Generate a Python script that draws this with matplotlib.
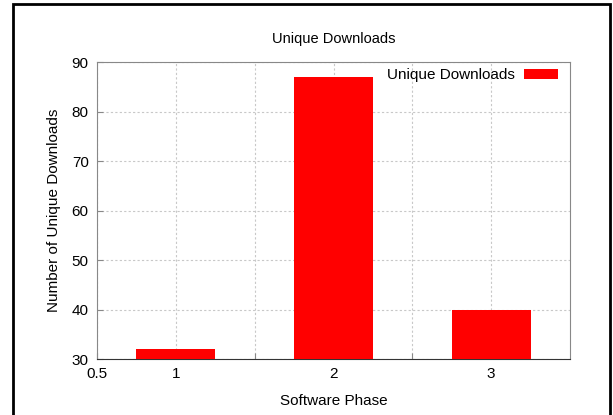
import matplotlib.pyplot as plt
from matplotlib.patches import Rectangle

phases = [1, 2, 3]
downloads = [32, 87, 40]
xticks = [0.5, 1, 1.5, 2, 2.5, 3]
xtick_labels = ['0.5', '1', '', '2', '', '3']
yticks = [30, 40, 50, 60, 70, 80, 90]

plt.rcParams['font.family'] = ['Liberation Sans', 'DejaVu Sans']
plt.rcParams['font.size'] = 10

fig = plt.figure(figsize=(6.13, 4.15), dpi=100)
ax = fig.add_axes([97 / 613, 1 - 359 / 415, (570 - 97) / 613, (359 - 62) / 415])

ax.bar(phases, [d - 30 for d in downloads], bottom=30, width=0.5, color='#ff0000',
       label='Unique Downloads', zorder=3)

ax.set_xlim(0.5, 3.5)
ax.set_ylim(30, 90)
ax.set_xticks(xticks)
ax.set_xticklabels(xtick_labels)
ax.set_yticks(yticks)
ax.grid(True, linestyle=(0, (2, 2)), color='#c8c8c8', linewidth=0.8, zorder=0)
ax.tick_params(direction='in', length=4, color='#888888', labelsize=11, pad=6)

for side in ['left', 'right', 'top']:
    ax.spines[side].set_color('#888888')
ax.spines['bottom'].set_color('#333333')

ax.set_title('Unique Downloads', fontsize=10.5, pad=14)
ax.set_xlabel('Software Phase', fontsize=11, labelpad=9)
ax.set_ylabel('Number of Unique Downloads', fontsize=11, labelpad=8)

leg = ax.legend(loc='upper right', frameon=False, markerfirst=False, fontsize=11,
                handlelength=2.2, handleheight=0.6, borderaxespad=0.1,
                handletextpad=0.6, bbox_to_anchor=(0.99, 1.005))

# outer frame
fig.patches.append(Rectangle((13 / 613, -0.05), (610 - 13) / 613, 1.05 - 4.5 / 415,
                             transform=fig.transFigure, fill=False,
                             edgecolor='black', linewidth=2))

fig.savefig('out.png', dpi=100)
